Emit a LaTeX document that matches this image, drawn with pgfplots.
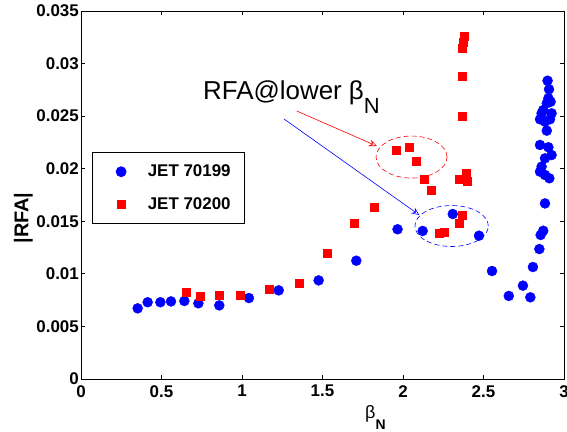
\documentclass[border=0pt]{standalone}
\usepackage{fontspec}
\setmainfont{Liberation Sans}
\usepackage{pgfplots}
\pgfplotsset{compat=1.18}
\usetikzlibrary{arrows.meta}
\begin{document}
\begin{tikzpicture}
\path[use as bounding box] (-81bp,-53bp) rectangle (486bp,379bp);
\begin{axis}[
  at={(0,0)}, anchor=south west,
  scale only axis, width=483bp, height=368bp,
  xmin=0, xmax=3, ymin=0, ymax=0.035,
  axis line style={line width=0.8bp},
  every tick/.style={black, line width=0.8bp},
  major tick length=4bp,
  tick align=inside,
  xtick={0,0.5,1,1.5,2,2.5,3},
  xticklabels={0,0.5,1,1.5,2,2.5,3},
  ytick={0,0.005,0.01,0.015,0.02,0.025,0.03,0.035},
  yticklabels={0,0.005,0.01,0.015,0.02,0.025,0.03,0.035},
  scaled y ticks=false,
  /pgf/number format/assume math mode=true,
  tick label style={font=\bfseries\fontsize{17}{17}\selectfont},
  yticklabel style={inner xsep=2bp},
  xticklabel style={inner ysep=6bp},
  xlabel={β\raisebox{-11bp}{\bfseries\fontsize{14}{14}\selectfont N}},
  xlabel style={at={(axis description cs:0.588,0)}, anchor=base west, yshift=-39bp, inner sep=0pt, font=\fontsize{18}{18}\selectfont},
  ylabel={|RFA|},
  ylabel style={at={(axis description cs:-0.1195,0.4375)}, anchor=center, font=\bfseries\fontsize{20}{20}\selectfont},
  legend style={at={(axis description cs:0.022,0.6177)}, anchor=north west,
    draw=black, line width=0.8bp, font=\bfseries\fontsize{17}{17}\selectfont,
    inner xsep=12bp, inner ysep=11bp, row sep=15bp, cells={anchor=west},
    /tikz/every even column/.append style={column sep=0bp}},
  legend image code/.code={\path (0bp,0bp) (41bp,0bp); \draw[#1] plot coordinates {(16.7bp,0bp)};},
]
\addplot[only marks, mark=*, mark size=5bp, color=blue, fill=blue] coordinates {
(0.352,0.00672) (0.414,0.0073) (0.493,0.0073) (0.559,0.00738) (0.642,0.00742)
(0.729,0.0072) (0.859,0.0070) (1.043,0.0077) (1.228,0.00843) (1.476,0.00938)
(1.710,0.01125) (1.966,0.01424) (2.122,0.01408) (2.309,0.01569) (2.472,0.01363)
(2.553,0.01027) (2.657,0.0079) (2.745,0.00888) (2.791,0.00777) (2.807,0.01065)
(2.847,0.01236) (2.855,0.0137) (2.871,0.0141) (2.882,0.0167)
(2.898,0.02837) (2.907,0.02755) (2.903,0.0267) (2.917,0.02637) (2.893,0.02622)
(2.871,0.02558) (2.861,0.02527) (2.923,0.02527) (2.851,0.0247) (2.913,0.0247)
(2.882,0.02447) (2.893,0.02362) (2.851,0.02226) (2.903,0.02204) (2.923,0.0213)
(2.882,0.02099) (2.861,0.0202) (2.851,0.01972) (2.882,0.0194) (2.909,0.01909)
};
\addlegendentry{JET 70199\hspace{10bp}}
\addplot[only marks, mark=square*, mark size=4bp, color=red, fill=red] coordinates {
(0.656,0.0083) (0.739,0.0079) (0.859,0.0080) (0.988,0.0080) (1.168,0.00853)
(1.358,0.0091) (1.528,0.0120) (1.698,0.0148) (1.820,0.0163) (1.957,0.02178)
(2.039,0.02203) (2.081,0.02076) (2.129,0.01902) (2.178,0.0180) (2.222,0.01385)
(2.257,0.0140) (2.348,0.0148) (2.368,0.01557) (2.348,0.0190) (2.395,0.01955)
(2.400,0.01877) (2.390,0.0192) (2.368,0.0250) (2.368,0.02882) (2.368,0.03145)
(2.375,0.03208) (2.381,0.03256)
};
\addlegendentry{JET 70200\hspace{10bp}}
\draw[red, dashed, line width=0.6bp, dash pattern=on 5bp off 3bp] (axis cs:2.053,0.02111) ellipse [x radius=35.5bp, y radius=21bp];
\draw[blue, dashed, line width=0.6bp, dash pattern=on 5bp off 3bp] (axis cs:2.302,0.01455) ellipse [x radius=36.7bp, y radius=20.5bp];
\draw[red, line width=0.6bp, -{Stealth[length=8bp,width=7bp,inset=3bp,open]}] (axis cs:1.340,0.02549) -- (axis cs:1.837,0.02216);
\draw[blue, line width=0.6bp, -{Stealth[length=8bp,width=7bp,inset=3bp,open]}] (axis cs:1.261,0.02473) -- (axis cs:2.101,0.0156);
\node[anchor=base west, inner sep=0pt, font=\fontsize{26}{26}\selectfont] at (axis cs:0.758,0.0266) {RFA@lower β\raisebox{-14bp}{\fontsize{22}{22}\selectfont N}};
\end{axis}
\end{tikzpicture}
\end{document}
